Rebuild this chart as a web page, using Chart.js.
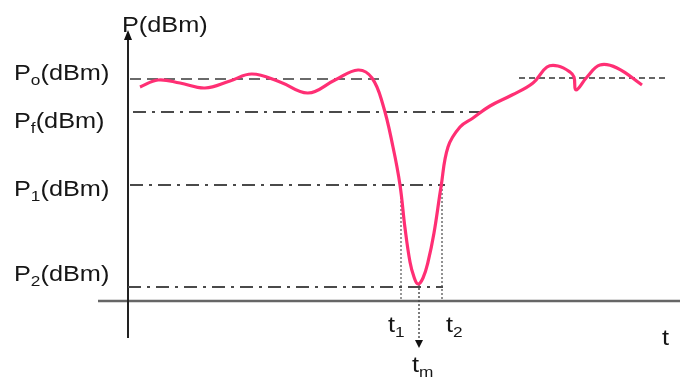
<!DOCTYPE html>
<html>
<head>
<meta charset="utf-8">
<script src="https://cdn.jsdelivr.net/npm/chart.js@4.4.1/dist/chart.umd.min.js"></script>
<style>
html,body{margin:0;padding:0;background:#fff;}
#wrap{width:680px;height:381px;}
</style>
</head>
<body>
<div id="wrap"><canvas id="c" width="680" height="381"></canvas></div>
<script>
// Time values (arbitrary units) and received power (arbitrary dB units) of the curve
const timeVals  = [1.2, 3.0, 5.2, 7.7, 10.2, 12.4, 15.2, 18.0, 20.7, 23.0, 24.4, 25.5, 26.5, 27.2, 27.7, 28.2, 28.6, 29.0, 29.5, 30.0, 30.6, 31.3, 32.0, 33.2, 34.5, 36.2, 38.4, 40.5, 41.9, 43.0, 44.2, 44.6, 44.8, 45.9, 47.2, 48.9, 51.4];
const powerVals = [21.4, 22.1, 21.8, 21.3, 22.0, 22.7, 21.9, 20.8, 22.1, 23.1, 22.3, 19.6, 15.4, 11.6, 7.3, 3.9, 2.4, 1.7, 2.3, 3.9, 6.8, 11.4, 15.4, 17.4, 18.3, 19.5, 20.6, 21.8, 23.4, 23.5, 22.9, 22.4, 21.1, 22.4, 23.6, 23.3, 21.6];

// Reference levels
const levelNames  = ['P0', 'Pf', 'P1', 'P2'];
const levelValues = [22.2, 18.9, 11.6, 1.4];
const levelEnds   = [25.7, 35.2, 31.7, 31.5];
const p0RightRange = [39.1, 53.7];

// Marked times
const timeNames = ['t1', 'tm', 't2'];
const timeMarks = [27.3, 29.1, 31.4];

const curve = timeVals.map((t, i) => ({x: t, y: powerVals[i]}));
const hseg = (y, x0, x1) => [{x: x0, y: y}, {x: x1, y: y}];
const vseg = (x, y0, y1) => [{x: x, y: y0}, {x: x, y: y1}];

const dashGray = '#4a4a4a';
const dashDot = [13, 6, 3, 6];

const datasets = [
  {data: curve, borderColor: '#ff2f74', borderWidth: 3.2, tension: 0.4, order: 0},
  {data: hseg(levelValues[0], 0.2, levelEnds[0]), borderColor: '#6a6a6a', borderWidth: 2.2, borderDash: [11, 6], order: 2},
  {data: hseg(levelValues[0] + 0.1, p0RightRange[0], p0RightRange[1]), borderColor: '#333', borderWidth: 1.6, borderDash: [6, 4], order: 2},
  {data: hseg(levelValues[1], 0.5, levelEnds[1]), borderColor: dashGray, borderWidth: 1.8, borderDash: dashDot, order: 2},
  {data: hseg(levelValues[2], 0.2, levelEnds[2]), borderColor: dashGray, borderWidth: 2.2, borderDash: dashDot, order: 2},
  {data: hseg(levelValues[3], 0.0, levelEnds[3]), borderColor: dashGray, borderWidth: 2.2, borderDash: dashDot, order: 2},
  {data: vseg(timeMarks[0], levelValues[2], 0), borderColor: '#555', borderWidth: 1.2, borderDash: [2, 2], order: 2},
  {data: vseg(timeMarks[2], levelValues[2], 0), borderColor: '#777', borderWidth: 1.6, borderDash: [2, 2], order: 2},
  {data: vseg(timeMarks[1], 1.7, -4.2), borderColor: '#444', borderWidth: 1.4, borderDash: [2, 2], order: 2},
  // axes
  {data: vseg(0, -3.7, 26.6), borderColor: '#222', borderWidth: 2, order: 3},
  {data: hseg(0, -3.0, 55.2), borderColor: '#666', borderWidth: 2.5, order: 3}
].map(d => Object.assign({pointRadius: 0, fill: false, tension: 0}, d));

const FONT = '"Liberation Sans", Arial, sans-serif';
const SX = 1.15;

function drawLabel(ctx, x, y, main, sub, size) {
  ctx.save();
  ctx.translate(x, y);
  ctx.scale(SX, 1);
  ctx.fillStyle = '#161616';
  ctx.textBaseline = 'alphabetic';
  ctx.textAlign = 'left';
  let cx = 0;
  ctx.font = size + 'px ' + FONT;
  ctx.fillText(main[0], cx, 0);
  cx += ctx.measureText(main[0]).width;
  if (sub) {
    ctx.font = Math.round(size * 0.7) + 'px ' + FONT;
    ctx.fillText(sub, cx, size * 0.22);
    cx += ctx.measureText(sub).width;
  }
  const rest = main.slice(1);
  if (rest) {
    ctx.font = size + 'px ' + FONT;
    ctx.fillText(rest, cx, 0);
  }
  ctx.restore();
}

const annot = {
  id: 'annot',
  afterDatasetsDraw(chart) {
    const ctx = chart.ctx;
    const xs = chart.scales.x, ys = chart.scales.y;
    // y-axis arrow
    const ax = xs.getPixelForValue(0), ay = ys.getPixelForValue(27.1);
    ctx.save();
    ctx.fillStyle = '#111';
    ctx.beginPath();
    ctx.moveTo(ax, ay);
    ctx.lineTo(ax - 4, ay + 10);
    ctx.lineTo(ax + 4, ay + 10);
    ctx.closePath();
    ctx.fill();
    // tm arrow
    const tx = xs.getPixelForValue(timeMarks[1]), ty = ys.getPixelForValue(-4.7);
    ctx.beginPath();
    ctx.moveTo(tx, ty);
    ctx.lineTo(tx - 4, ty - 8);
    ctx.lineTo(tx + 4, ty - 8);
    ctx.closePath();
    ctx.fill();
    ctx.restore();

    const S = 22;
    drawLabel(ctx, 122, 32, 'P(dBm)', '', S);
    const labelX = 14;
    const subs = ['o', 'f', '1', '2'];
    const dy = [1, 16, 11, -6];
    levelValues.forEach((v, i) => {
      drawLabel(ctx, labelX, ys.getPixelForValue(v) + dy[i], 'P(dBm)', subs[i], S);
    });
    drawLabel(ctx, 388, 332, 't', '1', S);
    drawLabel(ctx, 446, 332, 't', '2', S);
    drawLabel(ctx, 412, 372, 't', 'm', S);
    drawLabel(ctx, 662, 345, 't', '', S);
  }
};

new Chart(document.getElementById('c'), {
  type: 'line',
  data: {datasets},
  options: {
    responsive: false,
    animation: false,
    layout: {padding: 0},
    plugins: {legend: {display: false}, tooltip: {enabled: false}},
    scales: {
      x: {type: 'linear', display: false, min: -12.8, max: 55.2},
      y: {type: 'linear', display: false, min: -8.0, max: 30.1}
    }
  },
  plugins: [annot]
});
</script>
</body>
</html>
